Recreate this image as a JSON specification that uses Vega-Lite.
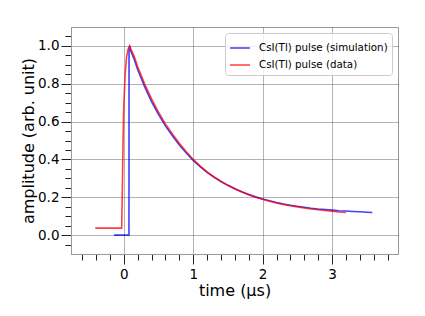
{
  "$schema": "https://vega.github.io/schema/vega-lite/v6.json",
  "width": 327,
  "height": 227,
  "autosize": {"type": "none"},
  "padding": {"left": 71, "top": 27, "right": 27, "bottom": 62},
  "background": "white",
  "config": {
    "font": "DejaVu Sans",
    "view": {"stroke": "#999", "strokeWidth": 1},
    "axis": {
      "domainColor": "#999",
      "tickColor": "#222",
      "tickWidth": 1,
      "labelFont": "DejaVu Sans",
      "labelFontSize": 13.5,
      "labelColor": "#000",
      "titleFont": "DejaVu Sans",
      "titleFontSize": 16,
      "titleFontWeight": "normal",
      "titleColor": "#000",
      "gridColor": "#555",
      "gridDash": [1, 1],
      "gridWidth": 0.9,
      "labelOverlap": false,
      "labelFlush": false
    }
  },
  "datasets": {
    "pulse": [
      {"series": "CsI(Tl) pulse (simulation)", "t": -0.14, "amp": 0},
      {"series": "CsI(Tl) pulse (simulation)", "t": 0.075, "amp": 0},
      {"series": "CsI(Tl) pulse (simulation)", "t": 0.076, "amp": 0.98},
      {"series": "CsI(Tl) pulse (simulation)", "t": 0.085, "amp": 1.0},
      {"series": "CsI(Tl) pulse (simulation)", "t": 0.1, "amp": 0.975},
      {"series": "CsI(Tl) pulse (simulation)", "t": 0.15, "amp": 0.93},
      {"series": "CsI(Tl) pulse (simulation)", "t": 0.2, "amp": 0.875},
      {"series": "CsI(Tl) pulse (simulation)", "t": 0.3, "amp": 0.785},
      {"series": "CsI(Tl) pulse (simulation)", "t": 0.4, "amp": 0.706},
      {"series": "CsI(Tl) pulse (simulation)", "t": 0.5, "amp": 0.638},
      {"series": "CsI(Tl) pulse (simulation)", "t": 0.6, "amp": 0.577},
      {"series": "CsI(Tl) pulse (simulation)", "t": 0.7, "amp": 0.525},
      {"series": "CsI(Tl) pulse (simulation)", "t": 0.8, "amp": 0.476},
      {"series": "CsI(Tl) pulse (simulation)", "t": 0.9, "amp": 0.434},
      {"series": "CsI(Tl) pulse (simulation)", "t": 1.0, "amp": 0.395},
      {"series": "CsI(Tl) pulse (simulation)", "t": 1.1, "amp": 0.362},
      {"series": "CsI(Tl) pulse (simulation)", "t": 1.2, "amp": 0.332},
      {"series": "CsI(Tl) pulse (simulation)", "t": 1.3, "amp": 0.306},
      {"series": "CsI(Tl) pulse (simulation)", "t": 1.4, "amp": 0.283},
      {"series": "CsI(Tl) pulse (simulation)", "t": 1.5, "amp": 0.263},
      {"series": "CsI(Tl) pulse (simulation)", "t": 1.6, "amp": 0.245},
      {"series": "CsI(Tl) pulse (simulation)", "t": 1.7, "amp": 0.229},
      {"series": "CsI(Tl) pulse (simulation)", "t": 1.8, "amp": 0.215},
      {"series": "CsI(Tl) pulse (simulation)", "t": 1.9, "amp": 0.202},
      {"series": "CsI(Tl) pulse (simulation)", "t": 2.0, "amp": 0.191},
      {"series": "CsI(Tl) pulse (simulation)", "t": 2.1, "amp": 0.181},
      {"series": "CsI(Tl) pulse (simulation)", "t": 2.2, "amp": 0.172},
      {"series": "CsI(Tl) pulse (simulation)", "t": 2.3, "amp": 0.164},
      {"series": "CsI(Tl) pulse (simulation)", "t": 2.4, "amp": 0.158},
      {"series": "CsI(Tl) pulse (simulation)", "t": 2.5, "amp": 0.152},
      {"series": "CsI(Tl) pulse (simulation)", "t": 2.6, "amp": 0.147},
      {"series": "CsI(Tl) pulse (simulation)", "t": 2.7, "amp": 0.142},
      {"series": "CsI(Tl) pulse (simulation)", "t": 2.8, "amp": 0.138},
      {"series": "CsI(Tl) pulse (simulation)", "t": 2.9, "amp": 0.135},
      {"series": "CsI(Tl) pulse (simulation)", "t": 3.0, "amp": 0.132},
      {"series": "CsI(Tl) pulse (simulation)", "t": 3.1, "amp": 0.129},
      {"series": "CsI(Tl) pulse (simulation)", "t": 3.2, "amp": 0.127},
      {"series": "CsI(Tl) pulse (simulation)", "t": 3.3, "amp": 0.125},
      {"series": "CsI(Tl) pulse (simulation)", "t": 3.4, "amp": 0.123},
      {"series": "CsI(Tl) pulse (simulation)", "t": 3.5, "amp": 0.121},
      {"series": "CsI(Tl) pulse (simulation)", "t": 3.58, "amp": 0.119},
      {"series": "CsI(Tl) pulse (data)", "t": -0.41, "amp": 0.037},
      {"series": "CsI(Tl) pulse (data)", "t": -0.03, "amp": 0.037},
      {"series": "CsI(Tl) pulse (data)", "t": -0.02, "amp": 0.25},
      {"series": "CsI(Tl) pulse (data)", "t": -0.01, "amp": 0.5},
      {"series": "CsI(Tl) pulse (data)", "t": 0.0, "amp": 0.68},
      {"series": "CsI(Tl) pulse (data)", "t": 0.02, "amp": 0.85},
      {"series": "CsI(Tl) pulse (data)", "t": 0.04, "amp": 0.94},
      {"series": "CsI(Tl) pulse (data)", "t": 0.06, "amp": 0.98},
      {"series": "CsI(Tl) pulse (data)", "t": 0.085, "amp": 1.0},
      {"series": "CsI(Tl) pulse (data)", "t": 0.1, "amp": 0.985},
      {"series": "CsI(Tl) pulse (data)", "t": 0.15, "amp": 0.945},
      {"series": "CsI(Tl) pulse (data)", "t": 0.2, "amp": 0.89},
      {"series": "CsI(Tl) pulse (data)", "t": 0.3, "amp": 0.8},
      {"series": "CsI(Tl) pulse (data)", "t": 0.4, "amp": 0.72},
      {"series": "CsI(Tl) pulse (data)", "t": 0.5, "amp": 0.65},
      {"series": "CsI(Tl) pulse (data)", "t": 0.6, "amp": 0.588},
      {"series": "CsI(Tl) pulse (data)", "t": 0.7, "amp": 0.535},
      {"series": "CsI(Tl) pulse (data)", "t": 0.8, "amp": 0.485},
      {"series": "CsI(Tl) pulse (data)", "t": 0.9, "amp": 0.441},
      {"series": "CsI(Tl) pulse (data)", "t": 1.0, "amp": 0.4},
      {"series": "CsI(Tl) pulse (data)", "t": 1.1, "amp": 0.365},
      {"series": "CsI(Tl) pulse (data)", "t": 1.2, "amp": 0.334},
      {"series": "CsI(Tl) pulse (data)", "t": 1.3, "amp": 0.307},
      {"series": "CsI(Tl) pulse (data)", "t": 1.4, "amp": 0.284},
      {"series": "CsI(Tl) pulse (data)", "t": 1.5, "amp": 0.263},
      {"series": "CsI(Tl) pulse (data)", "t": 1.6, "amp": 0.245},
      {"series": "CsI(Tl) pulse (data)", "t": 1.7, "amp": 0.228},
      {"series": "CsI(Tl) pulse (data)", "t": 1.8, "amp": 0.213},
      {"series": "CsI(Tl) pulse (data)", "t": 1.9, "amp": 0.2},
      {"series": "CsI(Tl) pulse (data)", "t": 2.0, "amp": 0.189},
      {"series": "CsI(Tl) pulse (data)", "t": 2.1, "amp": 0.179},
      {"series": "CsI(Tl) pulse (data)", "t": 2.2, "amp": 0.17},
      {"series": "CsI(Tl) pulse (data)", "t": 2.3, "amp": 0.162},
      {"series": "CsI(Tl) pulse (data)", "t": 2.4, "amp": 0.155},
      {"series": "CsI(Tl) pulse (data)", "t": 2.5, "amp": 0.149},
      {"series": "CsI(Tl) pulse (data)", "t": 2.6, "amp": 0.143},
      {"series": "CsI(Tl) pulse (data)", "t": 2.7, "amp": 0.138},
      {"series": "CsI(Tl) pulse (data)", "t": 2.8, "amp": 0.134},
      {"series": "CsI(Tl) pulse (data)", "t": 2.9, "amp": 0.13},
      {"series": "CsI(Tl) pulse (data)", "t": 3.0, "amp": 0.126},
      {"series": "CsI(Tl) pulse (data)", "t": 3.1, "amp": 0.122},
      {"series": "CsI(Tl) pulse (data)", "t": 3.2, "amp": 0.119}
    ]
  },
  "encoding": {
    "x": {
      "field": "t",
      "type": "quantitative",
      "scale": {"domain": [-0.76, 3.95], "nice": false, "zero": false},
      "axis": {
        "title": "time (μs)",
        "titlePadding": 2,
        "values": [-0.6, -0.4, -0.2, 0, 0.2, 0.4, 0.6, 0.8, 1, 1.2, 1.4, 1.6, 1.8, 2, 2.2, 2.4, 2.6, 2.8, 3, 3.2, 3.4, 3.6, 3.8],
        "labelExpr": "abs(datum.value - round(datum.value)) < 0.001 ? format(datum.value, 'd') : ''",
        "labelPadding": 3,
        "tickSize": {"condition": {"test": "abs(datum.value - round(datum.value)) < 0.001", "value": 10}, "value": 6},
        "gridOpacity": {"condition": {"test": "abs(datum.value - round(datum.value)) < 0.001", "value": 1}, "value": 0}
      }
    },
    "y": {
      "field": "amp",
      "type": "quantitative",
      "scale": {"domain": [-0.1, 1.1], "nice": false, "zero": false},
      "axis": {
        "title": "amplitude (arb. unit)",
        "titlePadding": 1,
        "values": [-0.05, 0, 0.05, 0.1, 0.15, 0.2, 0.25, 0.3, 0.35, 0.4, 0.45, 0.5, 0.55, 0.6, 0.65, 0.7, 0.75, 0.8, 0.85, 0.9, 0.95, 1.0, 1.05],
        "labelExpr": "abs(datum.value * 5 - round(datum.value * 5)) < 0.001 ? format(datum.value, '.1f') : ''",
        "labelPadding": 2,
        "tickSize": {"condition": {"test": "abs(datum.value * 5 - round(datum.value * 5)) < 0.001", "value": 10}, "value": 6},
        "gridOpacity": {"condition": {"test": "abs(datum.value * 5 - round(datum.value * 5)) < 0.001", "value": 1}, "value": 0}
      }
    },
    "color": {
      "field": "series",
      "type": "nominal",
      "scale": {"domain": ["CsI(Tl) pulse (simulation)", "CsI(Tl) pulse (data)"], "range": ["#0000ff", "#ff0000"]},
      "legend": {
        "title": null,
        "orient": "top-right",
        "offset": 6,
        "strokeColor": "#cccccc",
        "fillColor": "rgba(255,255,255,0.8)",
        "cornerRadius": 3,
        "padding": 4,
        "symbolType": "stroke",
        "symbolSize": 400,
        "symbolStrokeWidth": 1.5,
        "symbolOpacity": 0.75,
        "labelFont": "DejaVu Sans",
        "labelFontSize": 10.3,
        "labelColor": "#000",
        "labelOffset": 8,
        "rowPadding": -5
      }
    }
  },
  "layer": [
    {
      "data": {"name": "pulse"},
      "transform": [{"filter": "datum.series === 'CsI(Tl) pulse (simulation)'"}],
      "mark": {"type": "line", "strokeWidth": 1.6, "opacity": 0.75}
    },
    {
      "data": {"name": "pulse"},
      "transform": [{"filter": "datum.series === 'CsI(Tl) pulse (data)'"}],
      "mark": {"type": "line", "strokeWidth": 1.6, "opacity": 0.75}
    },
    {
      "data": {"values": [{"label": "1e−6"}]},
      "mark": {"type": "text", "align": "right", "baseline": "middle", "dy": 31, "fontSize": 6, "font": "DejaVu Sans Mono", "color": "#000"},
      "encoding": {
        "x": {"datum": 3.95, "type": "quantitative"},
        "y": {"datum": -0.1, "type": "quantitative"},
        "text": {"field": "label", "type": "nominal"},
        "color": {"value": "#000"}
      }
    }
  ]
}
